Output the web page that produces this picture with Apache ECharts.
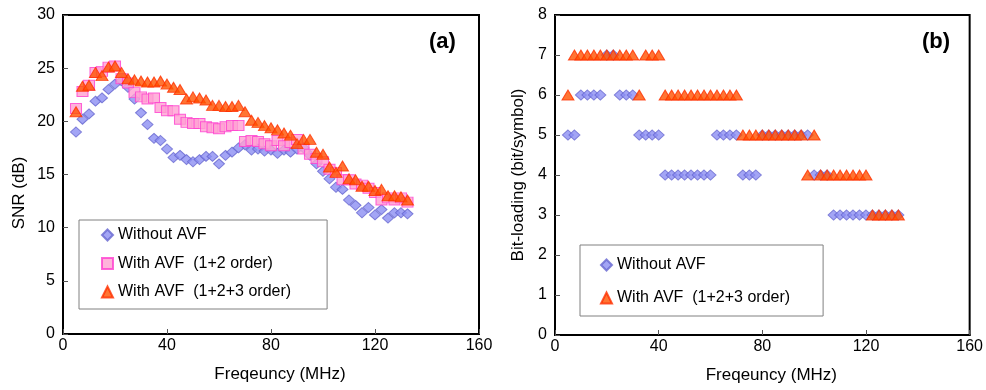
<!DOCTYPE html>
<html>
<head>
<meta charset="utf-8">
<script src="https://cdn.jsdelivr.net/npm/echarts@6/dist/echarts.min.js"></script>
<style>
  html, body { margin: 0; padding: 0; background: #ffffff; }
  #chart { width: 986px; height: 390px; }
</style>
</head>
<body>
<div id="chart"></div>
<script>
// Frequency points (MHz), shared by both panels
const freq = [5, 7.5, 10, 12.5, 15, 17.5, 20, 22.5, 25, 27.5, 30, 32.5, 35, 37.5, 40, 42.5,
  45, 47.5, 50, 52.5, 55, 57.5, 60, 62.5, 65, 67.5, 70, 72.5, 75, 77.5, 80, 82.5, 85, 87.5,
  90, 92.5, 95, 97.5, 100, 102.5, 105, 107.5, 110, 112.5, 115, 117.5, 120, 122.5, 125,
  127.5, 130, 132.5];

// (a) SNR in dB
const snrWithout = [19.0, 20.2, 20.7, 21.9, 22.2, 23.0, 23.5, 23.8, 23.2, 22.1, 20.8, 19.7,
  18.4, 18.2, 17.4, 16.6, 16.8, 16.4, 16.2, 16.4, 16.7, 16.7, 16.0, 16.8, 17.1, 17.5, 17.8,
  17.3, 17.4, 17.2, 17.3, 17.0, 17.3, 17.1, 17.4, 17.5, 16.8, 16.0, 15.3, 14.6, 13.8, 13.6,
  12.6, 12.1, 11.4, 11.9, 11.2, 11.7, 10.9, 11.4, 11.4, 11.3];
const snrOrder12 = [21.2, 22.8, 23.4, 24.6, 24.7, 25.1, 25.2, 24.0, 23.6, 22.7, 22.3, 22.1,
  22.2, 21.3, 21.0, 21.0, 20.2, 19.9, 19.8, 19.8, 19.5, 19.4, 19.3, 19.5, 19.6, 19.6, 18.1,
  18.2, 18.1, 17.9, 17.7, 18.2, 17.7, 18.0, 18.3, 17.4, 16.9, 16.5, 16.2, 15.5, 15.2, 14.5,
  14.5, 14.1, 14.0, 13.7, 13.3, 12.6, 12.8, 12.6, 12.8, 12.4];
const snrOrder123 = [20.9, 23.3, 23.4, 24.6, 24.3, 25.1, 25.2, 24.6, 24.0, 23.9, 23.8, 23.7,
  23.7, 23.8, 23.5, 23.2, 23.0, 22.1, 22.3, 22.2, 22.0, 21.5, 21.5, 21.4, 21.4, 21.5, 20.9,
  20.1, 19.9, 19.6, 19.4, 19.2, 18.9, 18.7, 17.9, 18.3, 18.3, 17.1, 16.9, 15.7, 15.2, 15.8,
  14.6, 14.5, 13.9, 13.9, 13.5, 13.6, 13.0, 13.0, 12.9, 12.6];

// (b) bit-loading in bit/symbol
const bitsWithout = [5, 5, 6, 6, 6, 6, 7, 7, 6, 6, 6, 5, 5, 5, 5, 4, 4, 4, 4, 4, 4, 4, 4,
  5, 5, 5, 5, 4, 4, 4, 5, 5, 5, 5, 5, 5, 5, 5, 4, 4, 4, 3, 3, 3, 3, 3, 3, 3, 3, 3, 3, 3];
const bitsOrder123 = [6, 7, 7, 7, 7, 7, 7, 7, 7, 7, 7, 6, 7, 7, 7, 6, 6, 6, 6, 6, 6, 6, 6,
  6, 6, 6, 6, 5, 5, 5, 5, 5, 5, 5, 5, 5, 5, 4, 5, 4, 4, 4, 4, 4, 4, 4, 4, 3, 3, 3, 3, 3];

const NAME_WITHOUT = "Without AVF";
const NAME_12 = "With AVF  (1+2 order)";
const NAME_123 = "With AVF  (1+2+3 order)";

const FONT = '"Liberation Sans", Arial, Helvetica, sans-serif';

const diamondStyle = { color: "#8c8ef2", borderColor: "#6666d0", borderWidth: 1 };
const squareStyle = { color: "#ffa0d2", borderColor: "#ff3fd0", borderWidth: 1 };
const triangleStyle = { color: "#ff5200", borderColor: "#ff3000", borderWidth: 1 };

const pairs = (xs, ys) => xs.map((x, i) => [x, ys[i]]);

const tickStyle = { color: "#000", fontSize: 16, fontFamily: FONT };
const nameStyle = { color: "#000", fontSize: 17, fontFamily: FONT };

function makeXAxis(gridIndex) {
  return {
    gridIndex,
    type: "value",
    min: 0,
    max: 160,
    interval: 40,
    name: "Freqeuncy (MHz)",
    nameLocation: "middle",
    nameGap: 32,
    nameTextStyle: { ...nameStyle, padding: [0, 0, 0, 18] },
    axisLine: { show: true, lineStyle: { color: "#000", width: 2 } },
    axisTick: { show: true, inside: true, length: 5, lineStyle: { color: "#555", width: 1 } },
    axisLabel: { ...tickStyle, margin: 4 },
    splitLine: { show: false },
  };
}

function makeYAxis(gridIndex, max, name, nameGap, namePad) {
  return {
    gridIndex,
    type: "value",
    min: 0,
    max,
    interval: max === 30 ? 5 : 1,
    name,
    nameLocation: "middle",
    nameGap,
    nameTextStyle: { ...nameStyle, padding: namePad },
    axisLine: { show: true, lineStyle: { color: "#000", width: 2 } },
    axisTick: { show: true, inside: true, length: 5, lineStyle: { color: "#555", width: 1 } },
    axisLabel: { ...tickStyle, margin: 8 },
    splitLine: { show: false },
  };
}

function scatter(name, xi, data, symbol, size, style) {
  return {
    name,
    type: "scatter",
    xAxisIndex: xi,
    yAxisIndex: xi,
    data,
    symbol,
    symbolSize: size,
    itemStyle: style,
    animation: false,
  };
}

const legendBase = {
  orient: "vertical",
  itemWidth: 11,
  itemHeight: 11,
  textStyle: { ...tickStyle, lineHeight: 15 },
  borderColor: "#808080",
  borderWidth: 1,
  backgroundColor: "#fff",
  selectedMode: false,
};

const chart = echarts.init(document.getElementById("chart"), null, { renderer: "canvas" });

chart.setOption({
  backgroundColor: "#fff",
  title: [
    { text: "(a)", left: 429, top: 31, padding: 0,
      textStyle: { fontSize: 22, fontWeight: "bold", color: "#000", fontFamily: FONT } },
    { text: "(b)", left: 922, top: 31, padding: 0,
      textStyle: { fontSize: 22, fontWeight: "bold", color: "#000", fontFamily: FONT } },
  ],
  grid: [
    { left: 63, top: 15, width: 416, height: 319, show: true, borderColor: "#000", borderWidth: 2, backgroundColor: "transparent" },
    { left: 555, top: 15, width: 415, height: 320, show: true, borderColor: "#000", borderWidth: 2, backgroundColor: "transparent" },
  ],
  xAxis: [makeXAxis(0), makeXAxis(1)],
  yAxis: [
    makeYAxis(0, 30, "SNR (dB)", 35, [0, 37, 0, 0]),
    makeYAxis(1, 8, "Bit-loading (bit/symbol)", 28, 0),
  ],
  legend: [
    { ...legendBase, data: [NAME_WITHOUT, NAME_12, NAME_123],
      left: 79, top: 220, padding: [7, 36, 9, 22], itemGap: 12.5 },
    { ...legendBase, data: [NAME_WITHOUT, NAME_123],
      left: 580, top: 245, padding: [12, 33, 10, 20], itemGap: 17 },
  ],
  series: [
    scatter(NAME_WITHOUT, 0, pairs(freq, snrWithout), "diamond", [11, 10], diamondStyle),
    scatter(NAME_12, 0, pairs(freq, snrOrder12), "rect", [11, 10], squareStyle),
    scatter(NAME_123, 0, pairs(freq, snrOrder123), "triangle", [12, 10], triangleStyle),
    scatter(NAME_WITHOUT, 1, pairs(freq, bitsWithout), "diamond", [11, 10], diamondStyle),
    scatter(NAME_123, 1, pairs(freq, bitsOrder123), "triangle", [12, 10], triangleStyle),
  ],
});
</script>
</body>
</html>
